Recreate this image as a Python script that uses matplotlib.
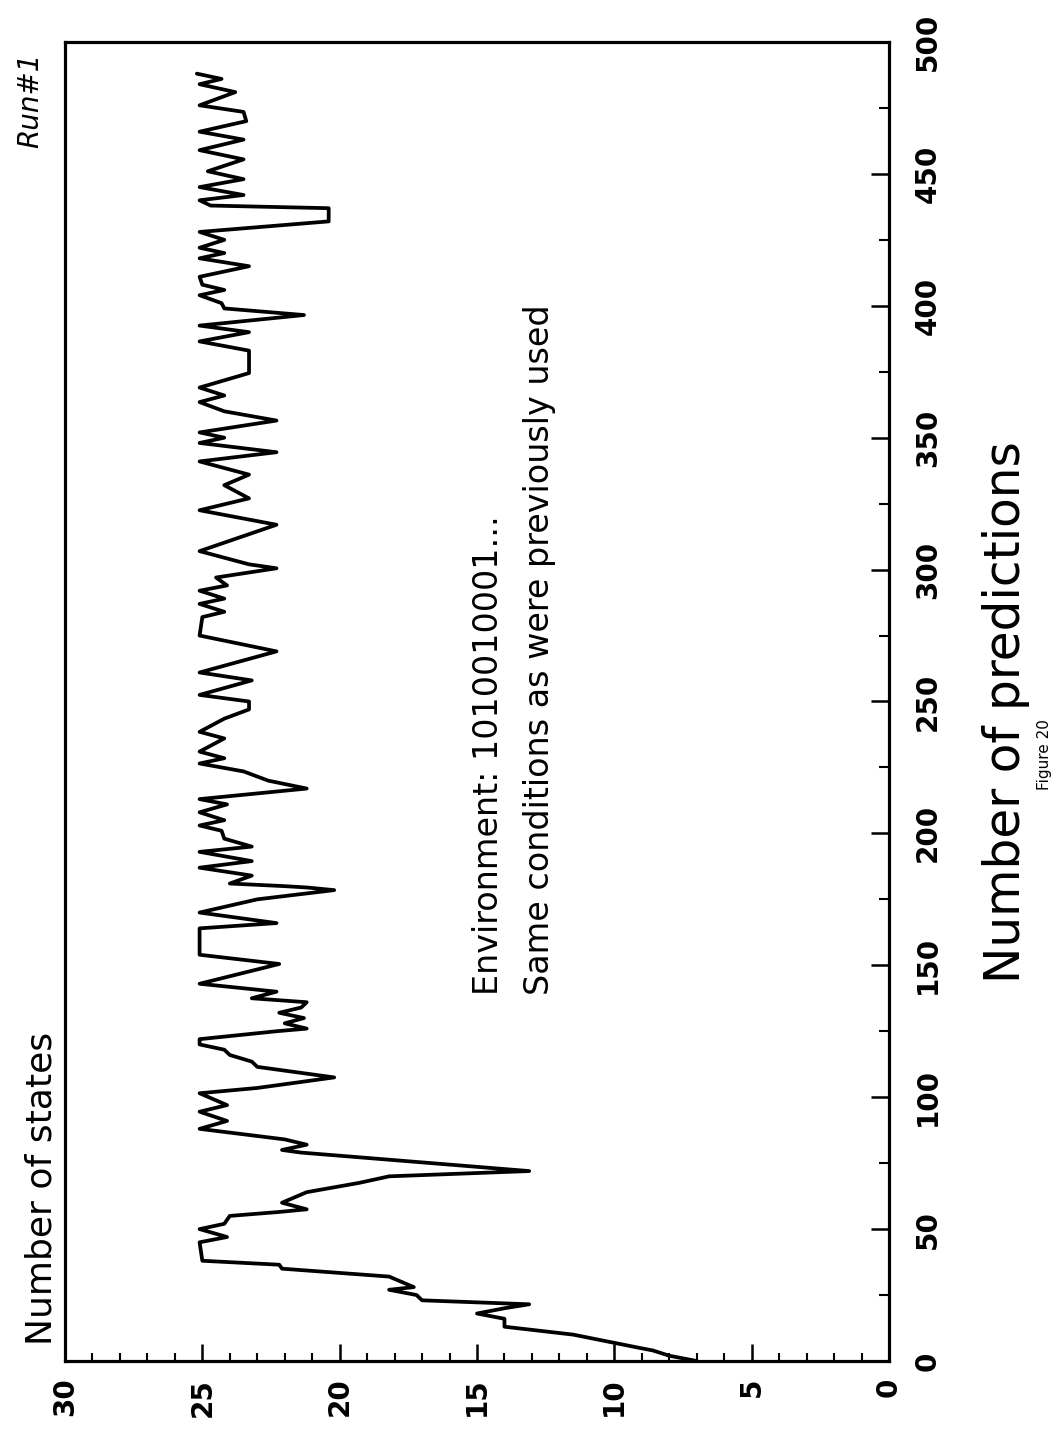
import matplotlib
matplotlib.use("Agg")
import matplotlib.pyplot as plt
from matplotlib.ticker import MultipleLocator

# Number of predictions (x of the original chart) and number of states
predictions = [0, 2, 4, 5, 10, 13, 16, 18, 20, 21.5, 23, 25, 27, 28, 32, 35, 36.5, 38,
               45, 47, 50, 52, 55, 56.5, 57.5, 60, 64, 67.5, 70, 72, 79, 80, 82, 84,
               88, 91, 94.5, 97, 101.5, 103.5, 107.5, 111.5, 113.5, 116, 118, 120, 122,
               125, 126, 128, 130, 132, 134, 136, 137.5, 140, 143, 150.5, 154, 164,
               166, 170, 175, 178.5, 179.5, 180, 181, 184, 187, 189.5, 193, 195, 198,
               201, 203, 205, 208, 211, 213, 217, 220, 223.5, 226.5, 228.5, 231, 236,
               238.5, 243.5, 247, 250, 252.5, 258, 261, 269, 275, 282, 284, 287, 289,
               292, 294, 297, 300.5, 302, 307, 317, 322.5, 327, 332, 336, 341, 344.5,
               348, 350, 352, 356.5, 360, 363.5, 366, 369, 374.5, 383, 386.5, 390,
               392.5, 396.5, 399, 401, 404, 406, 408, 411, 415, 418, 420, 422, 425,
               428, 432, 437, 438, 440, 442, 445, 448, 451, 455.5, 459, 463, 466, 470,
               473.5, 476, 481, 484, 486, 488]
states = [7.0, 8.0, 8.6, 9.1, 11.5, 14.0, 14.0, 15.0, 14.0, 13.1, 17.0, 17.2, 18.2, 17.3,
          18.2, 22.1, 22.2, 25.0,
          25.1, 24.1, 25.1, 24.2, 24.0, 22.2, 21.2, 22.1, 21.2, 19.3, 18.2, 13.1, 21.4,
          22.1, 21.2, 22.0,
          25.1, 24.1, 25.1, 24.1, 25.1, 23.0, 20.2, 23.0, 23.2, 24.0, 24.2, 25.1, 25.1,
          22.3, 21.2, 22.0, 21.3, 22.2, 21.4, 21.2, 23.2, 22.3, 25.1, 22.2, 25.1, 25.1,
          22.3, 25.1, 23.0, 20.2, 21.2, 22.0, 24.0, 23.2, 25.1, 23.2, 25.1, 23.2, 24.2,
          24.3, 25.1, 24.2, 25.1, 24.1, 25.1, 21.2, 22.6, 23.5, 25.1, 24.2, 25.1, 24.2,
          25.1, 24.2, 23.3, 23.3, 25.1, 23.2, 25.1, 22.3, 25.1, 25.0, 24.2, 25.1, 24.2,
          25.1, 24.1, 24.5, 22.3, 23.3, 25.1, 22.3, 25.1, 23.3, 24.2, 23.3, 25.1, 22.3,
          25.1, 24.2, 25.1, 22.3, 24.2, 25.1, 24.2, 25.1, 23.3, 23.3, 25.1, 23.3,
          25.1, 21.3, 24.2, 24.3, 25.1, 24.2, 25.0, 25.1, 23.3, 25.1, 24.2, 25.1, 24.2,
          25.1, 20.4, 20.4, 24.7, 25.1, 23.5, 25.1, 23.5, 24.8, 23.5, 25.1, 23.5, 25.1, 23.4,
          23.5, 25.1, 23.8, 25.1, 24.3, 25.2]

state_ticks = [0, 5, 10, 15, 20, 25, 30]
prediction_ticks = [0, 50, 100, 150, 200, 250, 300, 350, 400, 450, 500]


def plot_states():
    W, H = 1053, 1429
    fig = plt.figure(figsize=(W / 100, H / 100), dpi=100)
    ax = fig.add_axes([65 / W, 1 - 1361 / H, (889 - 65) / W, (1361 - 42) / H])

    # the page is turned: states run right-to-left along the bottom, predictions upward
    ax.plot(states, predictions, color='black', linewidth=2.7, solid_joinstyle='round',
            solid_capstyle='round')

    ax.set_xlim(30, 0)
    ax.set_ylim(0, 500)

    for s in ax.spines.values():
        s.set_linewidth(2.3)

    ax.set_xticks(state_ticks)
    ax.set_xticklabels([str(t) for t in state_ticks], rotation=90, fontsize=20,
                       fontweight='bold')
    ax.xaxis.set_minor_locator(MultipleLocator(1))
    ax.tick_params(axis='x', which='major', direction='in', length=12, width=1.8, pad=12)
    ax.tick_params(axis='x', which='minor', direction='in', length=6, width=1.5)

    ax.yaxis.tick_right()
    ax.set_yticks(prediction_ticks)
    ax.set_yticklabels([str(t) for t in prediction_ticks], rotation=90, va='center',
                       fontsize=20, fontweight='bold')
    ax.yaxis.set_minor_locator(MultipleLocator(25))
    ax.tick_params(axis='y', which='major', direction='in', length=13, width=1.8, pad=18)
    ax.tick_params(axis='y', which='minor', direction='in', length=7, width=1.5)

    # labels and notes, all rotated with the page
    fig.text(1006 / W, 1 - 983 / H, 'Number of predictions', rotation=90,
             ha='center', va='bottom', fontsize=35)
    fig.text(42 / W, 1 - 1345 / H, 'Number of states', rotation=90,
             ha='center', va='bottom', fontsize=26)
    fig.text(488 / W, 1 - 995 / H, 'Environment: 1010010001...', rotation=90,
             ha='center', va='bottom', fontsize=24)
    fig.text(540 / W, 1 - 995 / H, 'Same conditions as were previously used', rotation=90,
             ha='center', va='bottom', fontsize=24)
    fig.text(30 / W, 1 - 148 / H, 'Run#1', rotation=90, ha='center', va='bottom',
             fontsize=20, style='italic')
    fig.text(1045 / W, 1 - 790 / H, 'Figure 20', rotation=90, ha='center', va='bottom',
             fontsize=11)

    fig.savefig('out.png', dpi=100)
    plt.close(fig)


if __name__ == "__main__":
    plot_states()
